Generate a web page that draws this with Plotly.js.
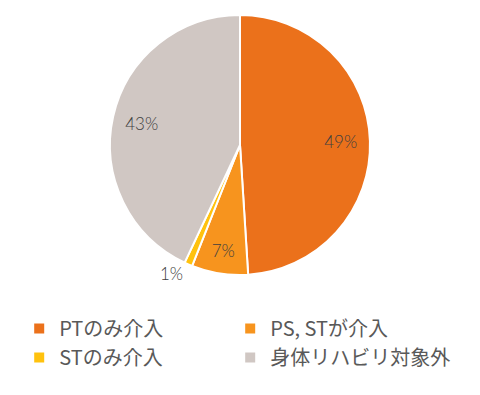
<!DOCTYPE html>
<html><head><meta charset="utf-8">
<script src="https://cdn.plot.ly/plotly-3.0.1.min.js"></script>
<style>html,body{margin:0;padding:0;background:#fff}#c{width:480px;height:395px}</style>
</head><body><div id="c"></div>
<script>
const categories = ['PTのみ介入', 'PS, STが介入', 'STのみ介入', '身体リハビリ対象外'];
const values = [49, 7, 1, 43];
const colors = ['#EB711B', '#F7941E', '#FFC20E', '#D0C7C3'];
const labelPositions = ['inside', 'inside', 'outside', 'inside'];

const pctFont = {family: 'Lato, "Noto Sans CJK JP", sans-serif', size: 17, color: '#404040', weight: 300};
const clearFont = Object.assign({}, pctFont, {color: 'rgba(0,0,0,0)'});
const domain = {x: [110/480, 370/480], y: [1 - 290/395, 1]};

// main coloured pie (shows the small outside label)
const mainPie = {
  type: 'pie',
  labels: categories,
  values: values,
  sort: false,
  direction: 'clockwise',
  rotation: 0,
  marker: {colors: colors, line: {color: '#ffffff', width: 2}},
  texttemplate: '%{percent:.0%}',
  textposition: labelPositions.map(p => p === 'outside' ? 'outside' : 'none'),
  outsidetextfont: pctFont,
  domain: domain
};

// transparent ring on top, used only to place the inside labels further out
const labelRing = {
  type: 'pie',
  labels: categories,
  values: values,
  sort: false,
  direction: 'clockwise',
  rotation: 0,
  hole: 0.55,
  showlegend: false,
  marker: {colors: categories.map(() => 'rgba(0,0,0,0)'), line: {width: 0}},
  texttemplate: '%{percent:.0%}',
  textposition: labelPositions,
  insidetextorientation: 'horizontal',
  insidetextfont: pctFont,
  outsidetextfont: clearFont,
  domain: domain
};

const layout = {
  width: 480, height: 395,
  margin: {l: 0, r: 0, t: 0, b: 0},
  paper_bgcolor: '#ffffff',
  showlegend: true,
  legend: {
    orientation: 'h',
    x: 0.04, xanchor: 'left',
    y: 1 - 377/395, yanchor: 'bottom',
    bgcolor: 'rgba(0,0,0,0)',
    entrywidth: 166, entrywidthmode: 'pixels',
    traceorder: 'normal',
    title: {text: '一'.repeat(22), side: 'top', font: {size: 20, color: 'rgba(0,0,0,0)'}},
    font: {family: '"Noto Sans CJK JP", sans-serif', size: 20, color: '#595959'}
  }
};

Plotly.newPlot('c', [mainPie, labelRing], layout, {staticPlot: true});
</script>
</body></html>
